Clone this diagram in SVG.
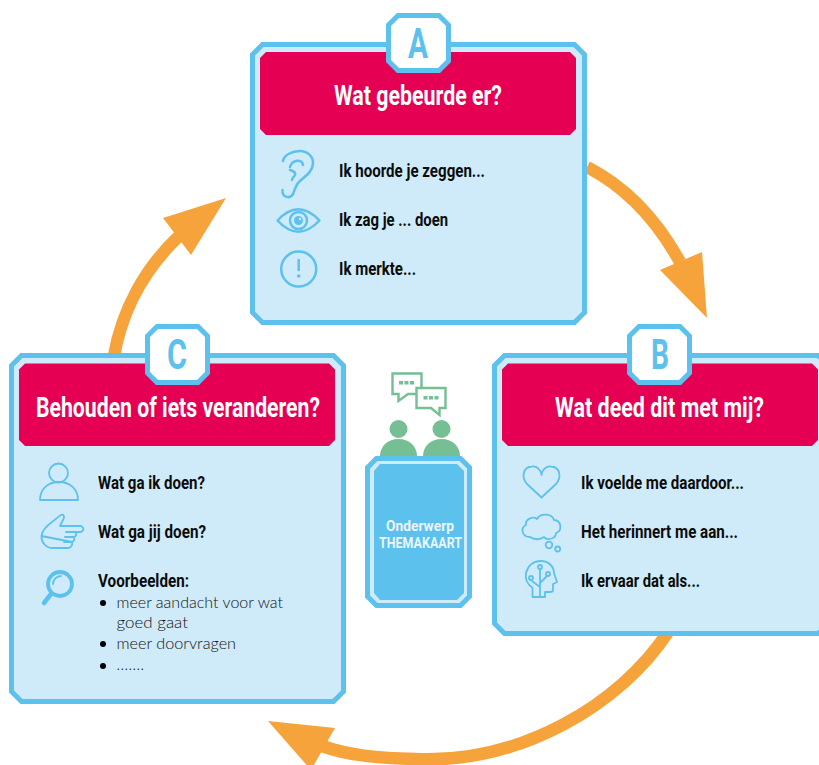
<svg xmlns="http://www.w3.org/2000/svg" width="819" height="765" viewBox="0 0 819 765">
<style>
.card{fill:#CFEBFA;stroke:#5DC1EE;stroke-width:5}
.head{fill:#E50053}
.badge{fill:#fff;stroke:#5DC1EE;stroke-width:5}
.letter{font:700 42px Roboto,"Liberation Sans",sans-serif;fill:#5DC1EE}
.title{font:700 27px Roboto,"Liberation Sans",sans-serif;fill:#fff}
.item{font:700 17.500px Roboto,"Liberation Sans",sans-serif;fill:#0b0b0b}
.list{font:300 15px Lato,"Open Sans",sans-serif;fill:#111}
.center{font:700 15px Roboto,"Liberation Sans",sans-serif;fill:#EAF6FC}
.icon{fill:none;stroke:#5DC1EE;stroke-width:2.500;stroke-linecap:round;stroke-linejoin:round}
.thin{stroke-width:1.800}
.iconf{fill:#5DC1EE}
.arc{fill:none;stroke:#F6A33B;stroke-width:12.500}
.tip{fill:#F6A33B}
.g{fill:#76BE93}
.bub{fill:#fff;stroke:#76BE93;stroke-width:2.400}
</style>

<g id="connectors">
<path class="arc" d="M587,167 C628,188 658,222 680,262"/>
<polygon class="tip" points="702,252 707,318 660,270"/>
<path class="arc" d="M668,632 C620,705 520,764 415,759 C380,758 350,756 322,746"/>
<polygon class="tip" points="268,721 335,728 311,770"/>
<path class="arc" d="M114,356 C122,310 145,268 180,235"/>
<polygon class="tip" points="163,218 226,198 191,255"/>
</g>

<g id="node-a">
<polygon class="card" points="262.500,44.500 574.500,44.500 584.500,54.500 584.500,312.500 574.500,322.500 262.500,322.500 252.500,312.500 252.500,54.500"/>
<polygon class="head" points="266,52 570,52 576,58 576,129 570,135 266,135 260,129 260,58"/>
<polygon class="badge" points="398,15.500 439,15.500 448.500,25 448.500,61 439,70.500 398,70.500 388.500,61 388.500,25"/>
<text class="letter" x="408" y="58" textLength="20" lengthAdjust="spacingAndGlyphs">A</text>
<text class="title" x="334" y="105" textLength="168" lengthAdjust="spacingAndGlyphs">Wat gebeurde er?</text>
<path class="icon" d="M282.500,190 C282,198 290,199 293,194 C295,189 296,185 299,182 C304,177 313,172 313,163 C313,156 307,151 300,151 C292,151 284,155 283,161 M290,167 C292,160 302,158 303,165 M290,170 C293,171 296,172 295,175 C294,177 292,178 292,180"/>
<path class="icon" d="M277.500,220.500 Q298,198 319.500,220.500 Q298,243 277.500,220.500Z"/>
<circle class="icon" cx="298.500" cy="220.500" r="8.500"/>
<circle class="iconf" cx="298.500" cy="220.500" r="4.500"/>
<circle cx="300" cy="219" r="1.300" fill="#CFEBFA"/>
<circle class="icon" cx="298.700" cy="269" r="17.500"/>
<path class="icon" d="M298.700,260 V270"/>
<circle class="iconf" cx="298.700" cy="276" r="1.800"/>
<text class="item" x="339" y="177" textLength="146" lengthAdjust="spacingAndGlyphs">Ik hoorde je zeggen...</text>
<text class="item" x="339" y="226" textLength="109" lengthAdjust="spacingAndGlyphs">Ik zag je ... doen</text>
<text class="item" x="339" y="275" textLength="77" lengthAdjust="spacingAndGlyphs">Ik merkte...</text>
</g>

<g id="node-b">
<polygon class="card" points="504.500,355.500 818,355.500 830,365.500 830,623.500 818,633.500 504.500,633.500 494.500,623.500 494.500,365.500"/>
<polygon class="head" points="508,363.500 812,363.500 818,369.500 818,440 812,446 508,446 502,440 502,369.500"/>
<polygon class="badge" points="639,326.500 680,326.500 689.500,336 689.500,373 680,382.500 639,382.500 629.500,373 629.500,336"/>
<text class="letter" x="651" y="369" textLength="18" lengthAdjust="spacingAndGlyphs">B</text>
<text class="title" x="555" y="417" textLength="209" lengthAdjust="spacingAndGlyphs">Wat deed dit met mij?</text>
<path class="icon thin" d="M541.500,497.500 L527,484 C521,477 523,467 532,466.500 C537,466 541,470 541.500,475 C542,470 546,466 551,466.500 C560,467 562,477 556,484Z"/>
<path class="icon thin" d="M530,537 C522,537 520,528 526,525 C525,519 533,516 537,519 C540,513 552,513 554,520 C561,520 563,531 556,533 C556,539 547,541 544,537 C540,540 534,540 530,537Z"/>
<circle class="icon thin" cx="549" cy="545" r="3.300"/>
<circle class="icon thin" cx="557.700" cy="549" r="2.500"/>
<path class="icon thin" d="M532.500,597 V588 C527,584 525,578 526,573 C528,565 534,561 541,561 C549,561 554,567 554,573 L557,582 L553,584 V590 Q553,592 550,592 H545 V597Z M540,597 V569 M540,587 L532,581 M540,583 L547,576"/>
<circle class="icon thin" cx="540" cy="567" r="2"/>
<circle class="icon thin" cx="531" cy="578" r="2"/>
<circle class="icon thin" cx="548" cy="574" r="2"/>
<text class="item" x="581" y="489" textLength="163" lengthAdjust="spacingAndGlyphs">Ik voelde me daardoor...</text>
<text class="item" x="581" y="538" textLength="157" lengthAdjust="spacingAndGlyphs">Het herinnert me aan...</text>
<text class="item" x="581" y="587" textLength="119" lengthAdjust="spacingAndGlyphs">Ik ervaar dat als...</text>
</g>

<g id="node-c">
<polygon class="card" points="21.500,355.500 333.500,355.500 343.500,365.500 343.500,691.500 333.500,701.500 21.500,701.500 11.500,691.500 11.500,365.500"/>
<polygon class="head" points="25,363.500 329,363.500 335,369.500 335,440 329,446 25,446 19,440 19,369.500"/>
<polygon class="badge" points="157,326.500 198,326.500 207.500,336 207.500,373 198,382.500 157,382.500 147.500,373 147.500,336"/>
<text class="letter" x="167" y="369" textLength="20" lengthAdjust="spacingAndGlyphs">C</text>
<text class="title" x="36" y="417" textLength="284" lengthAdjust="spacingAndGlyphs">Behouden of iets veranderen?</text>
<circle class="icon thin" cx="58.500" cy="473" r="9.500"/>
<path class="icon thin" d="M40,500 C40,489 48,482 59,482 C70,482 78,489 78,500Z"/>
<path class="icon thin" d="M41.500,536 C42,530 47,526 52,522 C56,519 59,516 61,515 C64,514 65,517 63,520 L60,526 L81,526 Q86,529 81,532 L66,532 M76,532 Q77,536 74,537 H65 M74,537 Q75,541 72,542 H64 M72,542 Q73,546 69,548 H52 C46,548 41,542 41.500,536Z"/>
<circle cx="60" cy="584" r="12" fill="none" stroke="#5DC1EE" stroke-width="3.800"/>
<path d="M51,594 L44,603" fill="none" stroke="#5DC1EE" stroke-width="4.500" stroke-linecap="round"/>
<path class="icon thin" d="M53,584 A8,8 0 0 1 61,576"/>
<text class="item" x="98" y="489" textLength="107" lengthAdjust="spacingAndGlyphs">Wat ga ik doen?</text>
<text class="item" x="98" y="538" textLength="108" lengthAdjust="spacingAndGlyphs">Wat ga jij doen?</text>
<text class="item" x="98" y="587" textLength="91" lengthAdjust="spacingAndGlyphs">Voorbeelden:</text>
<circle cx="103" cy="603" r="3"/>
<circle cx="103" cy="644" r="3"/>
<circle cx="103" cy="666" r="3"/>
<text class="list" x="116.500" y="608" textLength="166.500" lengthAdjust="spacingAndGlyphs">meer aandacht voor wat</text>
<text class="list" x="116.500" y="628" textLength="71.500" lengthAdjust="spacingAndGlyphs">goed gaat</text>
<text class="list" x="116.500" y="649" textLength="119.500" lengthAdjust="spacingAndGlyphs">meer doorvragen</text>
<text class="list" x="116.500" y="670" textLength="27.500" lengthAdjust="spacing">.......</text>
</g>

<g id="node-center">
<path class="bub" d="M392.500,373.500 H421.500 V394 H408 L398.500,401 V394 H392.500Z"/>
<path class="g" d="M399,381 h4 v3.500 h-4z M404.500,381 h4 v3.500 h-4z M410,381 h4 v3.500 h-4z"/>
<path class="bub" d="M416.500,388 H445.500 V408 H439.500 V415 L431,408 H416.500Z"/>
<path class="g" d="M423.500,396 h4 v3.500 h-4z M429,396 h4 v3.500 h-4z M434.500,396 h4 v3.500 h-4z"/>
<circle class="g" cx="398.500" cy="429" r="9"/>
<circle class="g" cx="441.500" cy="429" r="9"/>
<path class="g" d="M380,456 C380,446 388,439 398.500,439 C409,439 417,446 417,456Z"/>
<path class="g" d="M423,456 C423,446 431,439 441.500,439 C452,439 460,446 460,456Z"/>
<polygon class="card" points="376.500,458.500 460.500,458.500 469.500,467.500 469.500,596.500 460.500,605.500 376.500,605.500 367.500,596.500 367.500,467.500"/>
<polygon points="380,464 457,464 464,471 464,593 457,600 380,600 374,593 374,471" fill="#5DC1EE"/>
<text class="center" x="386" y="531" textLength="68" lengthAdjust="spacingAndGlyphs">Onderwerp</text>
<text class="center" x="379" y="548" textLength="83" lengthAdjust="spacingAndGlyphs">THEMAKAART</text>
</g>
</svg>
